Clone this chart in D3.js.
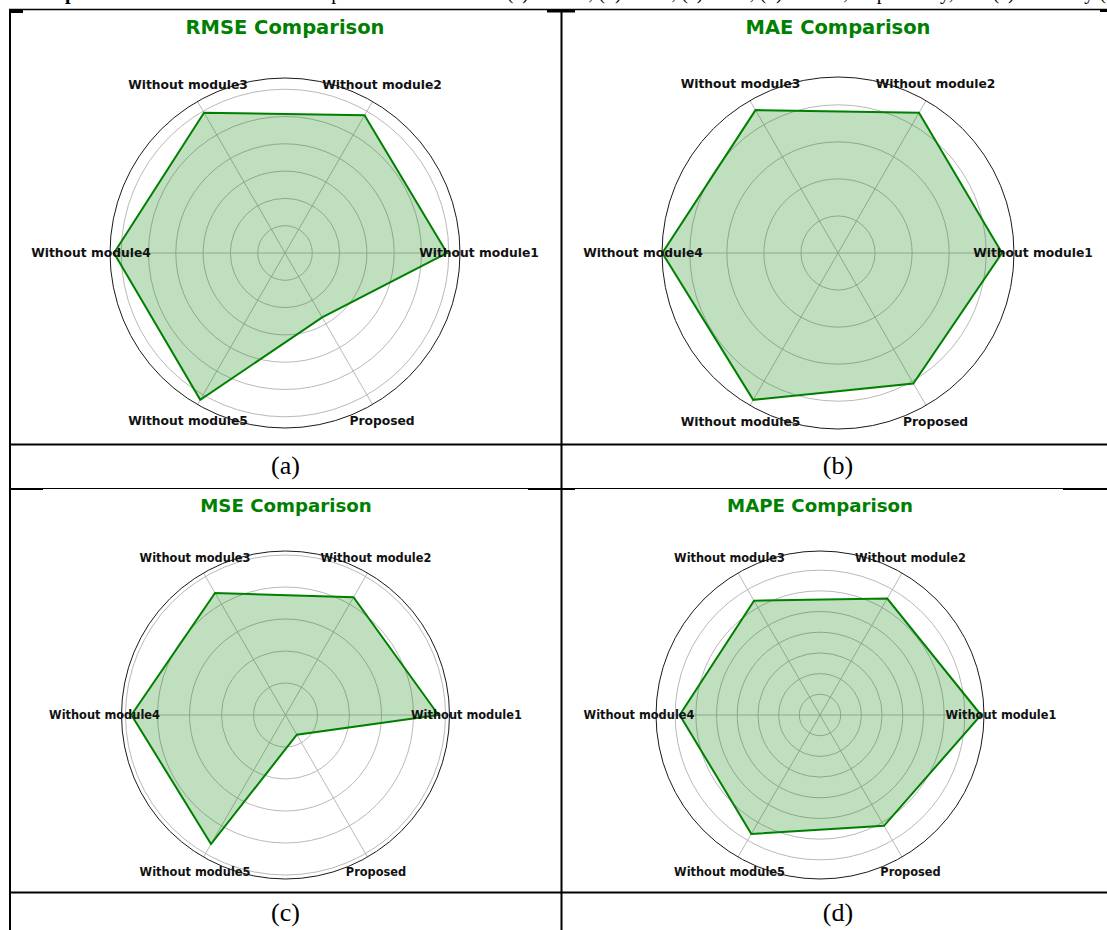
<!DOCTYPE html>
<html>
<head>
<meta charset="utf-8">
<script src="https://cdn.jsdelivr.net/npm/d3@7/dist/d3.min.js"></script>
<style>
  html, body { margin: 0; padding: 0; background: #fff; }
  svg { display: block; }
</style>
</head>
<body>
<svg id="chart" width="1107" height="930"></svg>
<script>
// ---------- data ----------
const categories = ["Without module1", "Without module2", "Without module3", "Without module4", "Without module5", "Proposed"];
const titles = ["RMSE Comparison", "MAE Comparison", "MSE Comparison", "MAPE Comparison"];
const captions = ["(a)", "(b)", "(c)", "(d)"];

const rmseValues = [0.2967, 0.2912, 0.2967, 0.3132, 0.3104, 0.1361];
const rmseTicks = [0.05, 0.10, 0.15, 0.20, 0.25, 0.30];
const rmseMax = 0.3205;

const maeValues = [0.4426, 0.4372, 0.4453, 0.4742, 0.4577, 0.4067];
const maeTicks = [0.1, 0.2, 0.3, 0.4];
const maeMax = 0.475;

const mseValues = [0.0956, 0.0850, 0.0881, 0.0963, 0.0931, 0.0142];
const mseTicks = [0.02, 0.04, 0.06, 0.08, 0.10];
const mseMax = 0.1025;

const mapeValues = [15.56, 13.00, 12.75, 13.56, 13.27, 12.37];
const mapeTicks = [2, 4, 6, 8, 10, 12, 14];
const mapeMax = 15.85;

// ---------- layout ----------
const svg = d3.select("#chart");
const GREEN = "#008000";

const panels = [
  { values: rmseValues, ticks: rmseTicks, max: rmseMax, cx: 285, cy: 253, R: 175, labelR: 194, fs: 12.3, titleX: 285, titleY: 34, titleFs: 19.5, capX: 285.5, capY: 474 },
  { values: maeValues, ticks: maeTicks, max: maeMax, cx: 838, cy: 253, R: 176, labelR: 195, fs: 12.3, titleX: 838, titleY: 34, titleFs: 19.5, capX: 838, capY: 474 },
  { values: mseValues, ticks: mseTicks, max: mseMax, cx: 285.5, cy: 715, R: 164, labelR: 181, fs: 11.4, titleX: 286, titleY: 511.5, titleFs: 18.2, capX: 285.5, capY: 921 },
  { values: mapeValues, ticks: mapeTicks, max: mapeMax, cx: 820, cy: 715, R: 164, labelR: 181, fs: 11.4, titleX: 820, titleY: 511.5, titleFs: 18.2, capX: 838, capY: 921 }
];

// clipped text line from the page above (only its descenders show)
const topLine = svg.append("text")
  .attr("x", 24).attr("y", -1)
  .attr("font-family", "'Liberation Serif', 'Times New Roman', serif")
  .attr("font-size", 20)
  .attr("fill", "#000");
topLine.append("tspan").attr("font-weight", "bold").text("Comparison");
topLine.append("tspan").text(" results of the ablation experiments in terms of (a) RMSE, (b) MAE, (c) MSE, (d) MAPE, respectively, and (e) summary (f)");

// ---------- table lines ----------
const lines = svg.append("g").attr("stroke", "#000");
lines.append("line").attr("x1", 9).attr("x2", 1107).attr("y1", 9.5).attr("y2", 9.5).attr("stroke-width", 1.5);
lines.append("line").attr("x1", 10).attr("x2", 10).attr("y1", 9).attr("y2", 930).attr("stroke-width", 2);
lines.append("line").attr("x1", 561.5).attr("x2", 561.5).attr("y1", 9).attr("y2", 930).attr("stroke-width", 2);
lines.append("line").attr("x1", 9).attr("x2", 1107).attr("y1", 444.5).attr("y2", 444.5).attr("stroke-width", 2);
lines.append("line").attr("x1", 9).attr("x2", 1107).attr("y1", 488.5).attr("y2", 488.5).attr("stroke-width", 1);
lines.append("line").attr("x1", 9).attr("x2", 1107).attr("y1", 892.5).attr("y2", 892.5).attr("stroke-width", 2);
// thicker image-edge fragments
[[9, 23, 11.5], [547, 575, 11], [1100, 1107, 10.5]].forEach(s =>
  lines.append("line").attr("x1", s[0]).attr("x2", s[1]).attr("y1", s[2]).attr("y2", s[2]).attr("stroke-width", 3));
[[10, 43, 489], [528, 575, 489], [1063, 1107, 489]].forEach(s =>
  lines.append("line").attr("x1", s[0]).attr("x2", s[1]).attr("y1", s[2]).attr("y2", s[2]).attr("stroke-width", 2));

// ---------- radar panels ----------
const n = categories.length;
const theta = i => i * 2 * Math.PI / n;           // counter-clockwise from east

panels.forEach((p, k) => {
  const g = svg.append("g").attr("transform", `translate(${p.cx},${p.cy})`);
  const r = d3.scaleLinear().domain([0, p.max]).range([0, p.R]);

  // grid rings
  g.selectAll("circle.ring").data(p.ticks).join("circle")
    .attr("class", "ring")
    .attr("r", d => r(d))
    .attr("fill", "none").attr("stroke", "#b0b0b0").attr("stroke-width", 0.9);

  // spokes
  g.selectAll("line.spoke").data(categories).join("line")
    .attr("class", "spoke")
    .attr("x1", 0).attr("y1", 0)
    .attr("x2", (d, i) => r(p.max) * Math.cos(theta(i)))
    .attr("y2", (d, i) => -r(p.max) * Math.sin(theta(i)))
    .attr("stroke", "#b0b0b0").attr("stroke-width", 0.9);

  // data polygon
  const radial = d3.lineRadial()
    .angle((d, i) => Math.PI / 2 - theta(i))
    .radius(d => r(d))
    .curve(d3.curveLinearClosed);

  g.append("path").datum(p.values)
    .attr("d", radial)
    .attr("fill", GREEN).attr("fill-opacity", 0.25)
    .attr("stroke", "none");

  g.append("path").datum(p.values)
    .attr("d", radial)
    .attr("fill", "none")
    .attr("stroke", GREEN).attr("stroke-width", 2)
    .attr("stroke-linejoin", "miter");

  // outer spine
  g.append("circle").attr("r", r(p.max))
    .attr("fill", "none").attr("stroke", "#1a1a1a").attr("stroke-width", 1);

  // category labels
  g.selectAll("text.cat").data(categories).join("text")
    .attr("class", "cat")
    .attr("x", (d, i) => p.labelR * Math.cos(theta(i)))
    .attr("y", (d, i) => -p.labelR * Math.sin(theta(i)))
    .attr("text-anchor", "middle")
    .attr("dominant-baseline", "central")
    .attr("font-family", "'DejaVu Sans', sans-serif")
    .attr("font-weight", "bold")
    .attr("font-size", p.fs)
    .attr("fill", "#111")
    .text(d => d);

  // title
  svg.append("text")
    .attr("x", p.titleX).attr("y", p.titleY)
    .attr("text-anchor", "middle")
    .attr("font-family", "'DejaVu Sans', sans-serif")
    .attr("font-weight", "bold")
    .attr("font-size", p.titleFs)
    .attr("fill", GREEN)
    .text(titles[k]);

  // caption
  svg.append("text")
    .attr("x", p.capX).attr("y", p.capY)
    .attr("text-anchor", "middle")
    .attr("font-family", "'Liberation Serif', 'Times New Roman', serif")
    .attr("font-size", 26)
    .attr("fill", "#000")
    .text(captions[k]);
});
</script>
</body>
</html>
